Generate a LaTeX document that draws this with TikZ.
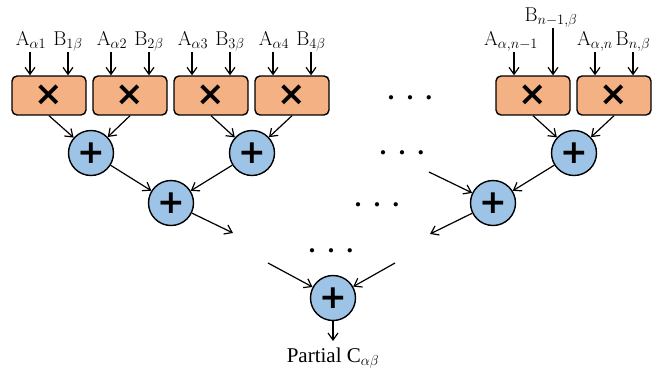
\documentclass[tikz,border=0pt]{standalone}
\usepackage{fontspec}
\newfontfamily\symfont{DejaVu Sans}[BoldFont={DejaVu Sans Bold}]
\newfontfamily\romfont{Liberation Serif}
\usetikzlibrary{arrows.meta}
\definecolor{mulfill}{HTML}{F4B183}
\definecolor{addfill}{HTML}{9DC3E6}
\begin{document}
\begin{tikzpicture}[x=1pt,y=-1pt,
  mulbox/.style={draw=black, line width=1.4pt, fill=mulfill, rounded corners=5pt,
    minimum width=74pt, minimum height=39pt, inner sep=0pt,
    font=\symfont\bfseries\fontsize{34}{34}\selectfont},
  adder/.style={draw=black, line width=1.4pt, fill=addfill, circle,
    minimum size=45pt, inner sep=0pt,
    font=\symfont\bfseries\fontsize{33}{33}\selectfont},
  flow/.style={line width=1.2pt, -{Straight Barb[length=7pt,width=10pt,line width=1.2pt]}},
  inlbl/.style={anchor=base, inner sep=0pt, font=\fontsize{20}{24}\selectfont},
  dots/.style={font=\fontsize{11}{12}\selectfont, inner sep=0pt}]
\useasboundingbox (0,0) rectangle (663,370);

% multiplier row
\foreach \i/\x in {1/49,2/130,3/211,4/292,m/533,n/614}
  \node[mulbox] (m\i) at (\x,95.5) {×};

% input labels
\foreach \i/\x in {1/49,2/130,3/211,4/292}{
  \node[inlbl] (a\i) at (\x-18,45) {$\mathrm{A}_{\alpha\i}$};
  \node[inlbl] (b\i) at (\x+19,45) {$\mathrm{B}_{\i\beta}$};
  \coordinate (ta\i) at (\x-19,52);
  \coordinate (tb\i) at (\x+19,52);
  \draw[flow] (ta\i) -- (m\i.north -| ta\i);
  \draw[flow] (tb\i) -- (m\i.north -| tb\i);
}
\node[inlbl] (am) at (511,45) {$\mathrm{A}_{\alpha,n-1}$};
\node[inlbl] (bm) at (551,21) {$\mathrm{B}_{n-1,\beta}$};
\node[inlbl] (an) at (595,45) {$\mathrm{A}_{\alpha,n}$};
\node[inlbl] (bn) at (633,45) {$\mathrm{B}_{n,\beta}$};
\coordinate (tam) at (514,52);
\coordinate (tbm) at (553,28);
\coordinate (tan) at (595,52);
\coordinate (tbn) at (633,52);
\draw[flow] (tam) -- (mm.north -| tam);
\draw[flow] (tbm) -- (mm.north -| tbm);
\draw[flow] (tan) -- (mn.north -| tan);
\draw[flow] (tbn) -- (mn.north -| tbn);

% adder tree
\node[adder] (s1) at (91,153) {+};
\node[adder] (s2) at (252,153) {+};
\node[adder] (s3) at (574,153) {+};
\node[adder] (t1) at (171,203) {+};
\node[adder] (t2) at (493,203) {+};
\node[adder] (f) at (333,298) {+};

\draw[flow] (m1.south) -- (s1);
\draw[flow] (m2.south) -- (s1);
\draw[flow] (m3.south) -- (s2);
\draw[flow] (m4.south) -- (s2);
\draw[flow] (mm.south) -- (s3);
\draw[flow] (mn.south) -- (s3);
\draw[flow] (s1) -- (t1);
\draw[flow] (s2) -- (t1);
\draw[flow] (s3) -- (t2);

\coordinate (t1out) at (233,233);
\coordinate (t2out) at (430,234);
\coordinate (t2in) at (429,172);
\draw[flow] (t1) -- (t1out);
\draw[flow] (t2) -- (t2out);
\draw[flow] (t2in) -- (t2);

\coordinate (fl) at (268,263);
\coordinate (fr) at (395,263);
\draw[flow] (fl) -- (f);
\draw[flow] (fr) -- (f);

\node[anchor=base, inner sep=0pt, font=\romfont\fontsize{21}{24}\selectfont] (out) at (333,362)
  {Partial C$_{\alpha\beta}$};
\coordinate (outtip) at (333,341);
\draw[flow] (f) -- (outtip);

% ellipses
\foreach \n/\x/\y in {d1/410/98, d2/402/153, d3/377/205, d4/331/251}
  \node[dots] (\n) at (\x,\y) {$\bullet\hspace{11pt}\bullet\hspace{11pt}\bullet$};
\end{tikzpicture}
\end{document}
